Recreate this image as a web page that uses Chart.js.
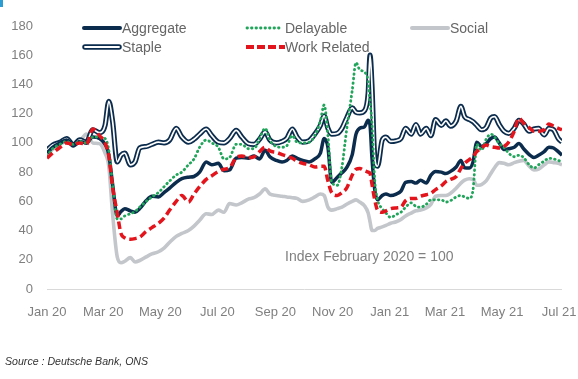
<!DOCTYPE html>
<html>
<head>
<meta charset="utf-8">
<script src="https://cdn.jsdelivr.net/npm/chart.js@4.4.1/dist/chart.umd.min.js"></script>
<style>
html,body{margin:0;padding:0;background:#fff;}
#wrap{position:relative;width:578px;height:379px;overflow:hidden;font-family:"Liberation Sans",Arial,sans-serif;background:#fff;}
#c{position:absolute;left:0;top:0;}
.leg{position:absolute;height:20px;display:flex;align-items:center;font-size:14px;color:#666;white-space:nowrap;}
.leg svg{display:block;}
#note{position:absolute;left:285px;top:248px;font-size:14px;color:#808080;white-space:nowrap;}
#src{position:absolute;left:5px;top:355px;font-size:10.6px;font-style:italic;color:#333;white-space:nowrap;}
#mark{position:absolute;left:0;top:0;width:3px;height:7px;background:#2c9dd3;}
</style>
</head>
<body>
<div id="wrap">
<canvas id="c" width="578" height="379"></canvas>
<div id="mark"></div>
<div class="leg" style="left:82px;top:18px;"><svg width="40" height="10"><line x1="2" y1="5" x2="38" y2="5" stroke="#0c2c4d" stroke-width="4" stroke-linecap="round"/></svg><span>Aggregate</span></div>
<div class="leg" style="left:82px;top:37px;"><svg width="40" height="10"><line x1="3" y1="5" x2="37" y2="5" stroke="#0c2c4d" stroke-width="5.5" stroke-linecap="round"/><line x1="3" y1="5" x2="37" y2="5" stroke="#fff" stroke-width="1.8" stroke-linecap="round"/></svg><span>Staple</span></div>
<div class="leg" style="left:245px;top:18px;"><svg width="40" height="10"><line x1="2" y1="5" x2="38" y2="5" stroke="#21a55b" stroke-width="2.8" stroke-dasharray="0.5 4" stroke-linecap="round"/></svg><span>Delayable</span></div>
<div class="leg" style="left:245px;top:37px;"><svg width="40" height="10"><line x1="1" y1="5" x2="40" y2="5" stroke="#e3141c" stroke-width="4" stroke-dasharray="8 3"/></svg><span>Work Related</span></div>
<div class="leg" style="left:410px;top:18px;"><svg width="40" height="10"><line x1="2" y1="5" x2="38" y2="5" stroke="#c3c6ca" stroke-width="4" stroke-linecap="round"/></svg><span>Social</span></div>
<div id="note">Index February 2020 = 100</div>
<div id="src">Source : Deutsche Bank, ONS</div>
</div>
<script>
// Days since 1 Jan 2020
const days = [0,6,14,21,28,35,42,49,56,62,
66,70,75,79,83,89,94,99,106,112,
119,125,131,138,144,151,157,163,170,176,
183,189,195,202,208,215,221,227,233,238,
245,251,256,262,267,273,280,286,292,296,
300,304,310,315,320,326,330,334,339,343,
345,347,350,353,358,362,367,373,378,383,
389,394,399,405,410,415,421,426,431,437,
442,446,451,455,459,464,469,474,478,483,
488,493,499,504,509,515,520,525,531,536,
541,546,550];

const staple = [95,98.5,100.5,103,98.5,102,100.5,109,107,112,
128.5,115,87,91.5,93,85,87,96.5,97.5,99,
100.5,100,102,110,104,100.5,102.5,106,109.5,105,
100.5,100,103,108.5,104,99.5,99,102.5,107.5,102,
100,101,103,109.5,104,100.5,101.5,106,112,118.5,
110,106,106.5,110,117,124,121,120.5,122,134,
160,140,90,84,102,104,101,101.5,103,110,
106,112.5,106,110,105,116,112,115,111.5,115,
125,118,116,114.5,112,109,110.5,117,118,112.5,
108,106.5,110,115.5,113,108,109.5,110,105.5,110,
109,103,100.5];

const aggregate = [93,97,100,102,99,101,100,104,103,99,
92,72,50,53,55,53.5,52.5,55,60.5,63.5,
63,66,69,73,75.5,76.5,77,80,87,85,
86,81,81.5,89.5,90,89.5,91,89,95,90.5,
88,87,88,91,89.5,88,87,89,93,103,
97,73,76.5,79.5,83,92,106,110,111,115.5,
112,90,68,61,64,65,64,65,67,73,
73.5,72.5,74.5,72.5,78,80.5,80,79,80.5,83.5,
88,83,82.8,87,100.5,97.5,99.5,103,104,100,
95.5,96,97,99.5,96,92,90,91.5,94,97,
96.5,94,91.5];

const delayable = [91,96,99,101,99,101,100,104,104,103,
95,72,48,48,50,51.5,53,56,60,63,
66,70,74,78,80,85,89,97,102,100,
97,89,90,99,99,96,96,103,110,102,
97.5,97,98,105,100.5,100,100.5,105,115,126,
105,73,71,83.5,109,136,155,150,148.5,142,
128,114,74.5,61,55,52,49,51,52.5,56,
59,56.5,56,58,61,61,61,59.5,60.5,63,
64,63,62,68,99,95,102.5,106,104,99.5,
97,93,90.5,91.5,90,85,82.8,85,87.5,89.5,
89,88,87];

const workRelated = [89.5,93,97,100,99,100,99,109.5,105,100,
91,70,52,38,35,34,34.5,35.5,39.5,42,
45,48.5,54,60,64,59.5,65,70,75,77.5,
80.5,82,83,90,91,90,90.5,94,97,94.5,
93.5,92,91,89.5,87.5,86,85,83.5,84,84,
74,66,64,66,69,78,82,82.5,81,80,
79,72,61,54,52.5,53.5,55,55.5,56,60.5,
62,62,63.5,64.5,65.5,68,70.5,73.5,75,77,
82.5,86,88.5,90.5,94,96.5,98.5,97.5,97,96.5,
97.5,100.5,108,117,113.5,110.5,108,108,109,113,
111.5,110,109];

const social = [92,95.5,99,101,98.5,101,106,100,99.5,93,
84,52,22,18,19,21.5,18.5,19.5,22,24,
25.5,28,32,36,38,40,43,47,51.5,51,
54,52.5,58.5,57.5,59,61.5,62.5,65,68.5,65,
64,63.5,63,62.5,62,60,61,63,65,64,
56,54,55,56,58,60,61,59.5,57,52,
46,40,40,41.5,42.5,43.5,45,46,47.5,50,
52,53.5,54,55.5,58,63.5,64,64,65.5,69,
72.5,74.5,75.5,75,71,71.5,74,79,83,86.5,
86,85,86.5,87.5,88,84,81.5,82,85,87,
86.5,86,85];

const xTickDays = [0,60,121,182,244,305,366,425,486,547];
const xTickLabels = ['Jan 20','Mar 20','May 20','Jul 20','Sep 20','Nov 20','Jan 21','Mar 21','May 21','Jul 21'];

const pts = arr => arr.map((v, i) => ({x: days[i], y: v}));

const NAVY = '#0c2c4d', GREEN = '#21a55b', RED = '#e3141c', GREY = '#c3c6ca';

Chart.defaults.font.family = '"Liberation Sans", Arial, sans-serif';

new Chart(document.getElementById('c'), {
  type: 'line',
  data: {
    datasets: [
      {label: 'Work Related', data: pts(workRelated), borderColor: RED, borderWidth: 3.5, borderDash: [7.5, 4]},
      {label: 'Delayable', data: pts(delayable), borderColor: GREEN, borderWidth: 2.8, borderDash: [0.5, 4], borderCapStyle: 'round'},
      {label: 'Aggregate', data: pts(aggregate), borderColor: NAVY, borderWidth: 3.5},
      {label: 'Staple inner', data: pts(staple), borderColor: '#ffffff', borderWidth: 1.7},
      {label: 'Staple', data: pts(staple), borderColor: NAVY, borderWidth: 5.2},
      {label: 'Social', data: pts(social), borderColor: GREY, borderWidth: 3.6}
    ]
  },
  options: {
    responsive: false,
    animation: false,
    devicePixelRatio: 1,
    layout: {padding: {top: 26, right: 16, bottom: 0, left: 0}},
    elements: {
      point: {radius: 0, hoverRadius: 0},
      line: {cubicInterpolationMode: 'monotone', fill: false, borderJoinStyle: 'round'}
    },
    plugins: {legend: {display: false}, tooltip: {enabled: false}},
    scales: {
      x: {
        type: 'linear', min: 0, max: 550,
        grid: {display: false},
        border: {display: false},
        afterBuildTicks: s => { s.ticks = xTickDays.map(v => ({value: v})); },
        afterFit: s => { s.height = 90; s.paddingLeft = 0; s.paddingRight = 0; },
        ticks: {
          autoSkip: false, maxRotation: 0, padding: 8,
          color: '#7f7f7f', font: {size: 13},
          callback: v => { const i = xTickDays.indexOf(v); return i >= 0 ? xTickLabels[i] : ''; }
        }
      },
      y: {
        min: 0, max: 180,
        border: {display: false},
        grid: {
          drawTicks: false,
          color: c => (c.tick && c.tick.value === 0) ? '#d9d9d9' : 'rgba(0,0,0,0)'
        },
        afterFit: s => { s.width = 47; },
        ticks: {stepSize: 20, padding: 14, color: '#7f7f7f', font: {size: 13}}
      }
    }
  }
});
</script>
</body>
</html>
